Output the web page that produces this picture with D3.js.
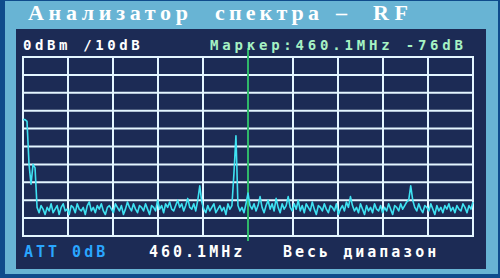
<!DOCTYPE html>
<html>
<head>
<meta charset="utf-8">
<script src="https://cdn.jsdelivr.net/npm/d3@7"></script>
<style>
  body { margin: 0; background: #68b4d4; }
  svg { display: block; }
</style>
</head>
<body>
<div id="chart"></div>
<script>
// spectrum sweep, full range, 10 dB / div
const freqStart = 0;
const freqStop = 920.2;
const levelTicks = [0, -10, -20, -30, -40, -50, -60, -70, -80, -90, -100];
const freqDivisions = 10;
const markerFreq = 460.1;
const markerLevel = -76;

const traceLevels = [
  -35, -35, -36, -60, -71, -60, -62, -84, -87, -83, -85, -88, -84, -86, -82,
  -87, -85, -83, -88, -84, -82, -86, -85, -88, -83, -84, -87, -82, -85, -86,
  -84, -88, -83, -81, -86, -84, -87, -83, -85, -82, -86, -88, -84, -83, -85,
  -87, -82, -84, -86, -83, -88, -85, -81, -84, -86, -82, -85, -87, -83, -84,
  -86, -82, -85, -88, -83, -84, -86, -80, -85, -83, -87, -82, -84, -81, -85,
  -86, -83, -80, -84, -82, -86, -83, -79, -84, -85, -82, -86, -80, -72, -81,
  -85, -87, -83, -86, -84, -82, -87, -85, -83, -86, -84, -88, -82, -85, -83,
  -65, -44, -83, -86, -84, -87, -82, -76, -83, -85, -82, -86, -83, -78, -84,
  -87, -83, -80, -85, -82, -86, -79, -84, -87, -82, -85, -83, -78, -84, -86,
  -82, -85, -80, -86, -83, -87, -82, -84, -86, -81, -85, -88, -83, -84, -86,
  -82, -85, -87, -83, -84, -86, -82, -88, -85, -83, -86, -81, -84, -78, -83,
  -86, -84, -87, -82, -85, -88, -83, -86, -84, -87, -82, -85, -86, -83, -87,
  -84, -86, -82, -85, -88, -83, -84, -86, -82, -85, -83, -81, -80, -72, -80,
  -84, -86, -82, -85, -87, -83, -84, -86, -82, -85, -88, -83, -86, -84, -87,
  -83, -85, -82, -86, -84, -87, -83, -85, -86, -82, -84, -87, -83, -85, -81
];

const width = 500, height = 278;
const svg = d3.select("#chart").append("svg")
  .attr("width", width).attr("height", height);

// frame
svg.append("rect").attr("width", width).attr("height", height).attr("fill", "#0f4c8c");
svg.append("rect").attr("x", 5).attr("y", 1).attr("width", 493).attr("height", 273).attr("fill", "#68b4d4");
svg.append("rect").attr("x", 16).attr("y", 29).attr("width", 470).attr("height", 240).attr("fill", "#1c2b55");

// title
const title = svg.append("g")
  .attr("font-family", "'Liberation Serif', 'DejaVu Serif', serif")
  .attr("font-size", 22).attr("font-weight", "bold").attr("fill", "#ffffff");
[["Анализатор", 28, 160], ["спектра", 215, 104], ["RF", 373, 35]].forEach(function (t) {
  title.append("text").attr("x", t[1]).attr("y", 20)
    .attr("textLength", t[2]).attr("lengthAdjust", "spacing").text(t[0]);
});
title.append("text").attr("x", 336).attr("y", 20).text("–");

const x = d3.scaleLinear().domain([freqStart, freqStop]).range([23, 473]);
const y = d3.scaleLinear().domain([0, -100]).range([57, 236]);

const span = freqStop - freqStart;
const freqGrid = d3.range(freqDivisions + 1).map(k => freqStart + k * span / freqDivisions);

const grid = svg.append("g").attr("stroke", "#e4f6ff").attr("stroke-width", 2);
grid.selectAll("line.h").data(levelTicks).enter().append("line")
  .attr("class", "h")
  .attr("x1", x(freqStart)).attr("x2", x(freqStop))
  .attr("y1", d => y(d)).attr("y2", d => y(d));
grid.selectAll("line.v").data(freqGrid).enter().append("line")
  .attr("class", "v")
  .attr("x1", d => x(d)).attr("x2", d => x(d))
  .attr("y1", y(0) - 1).attr("y2", y(-100) + 1);

// marker
svg.append("line")
  .attr("x1", x(markerFreq)).attr("x2", x(markerFreq))
  .attr("y1", 48).attr("y2", 241)
  .attr("stroke", "#2fb86a").attr("stroke-width", 2);

// trace
const step = span / (traceLevels.length - 1);
const line = d3.line()
  .x((d, i) => x(freqStart + i * step))
  .y(d => y(d));
svg.append("path")
  .datum(traceLevels)
  .attr("d", line)
  .attr("fill", "none")
  .attr("stroke", "#3fe2f2")
  .attr("stroke-width", 1.6)
  .attr("stroke-linejoin", "round");

// screen labels
const mono = "'DejaVu Sans Mono', 'Liberation Mono', monospace";
function label(txt, x0, y0, size, spacing, color) {
  svg.append("text").attr("x", x0).attr("y", y0)
    .attr("font-family", mono).attr("font-weight", "bold")
    .attr("font-size", size).attr("letter-spacing", spacing)
    .attr("fill", color).text(txt);
}
label("0dBm /10dB", 23, 50, 14, 3.6, "#ffffff");
label("Маркер:" + markerFreq.toFixed(1) + "MHz " + markerLevel + "dB", 210, 50, 14, 3.8, "#a6f2c4");
label("ATT 0dB", 24, 257, 15, 3, "#2aa6ff");
label(markerFreq.toFixed(1) + "MHz", 149, 257, 15, 3, "#ffffff");
label("Весь диапазон", 283, 257, 15, 3, "#ffffff");
</script>
</body>
</html>
